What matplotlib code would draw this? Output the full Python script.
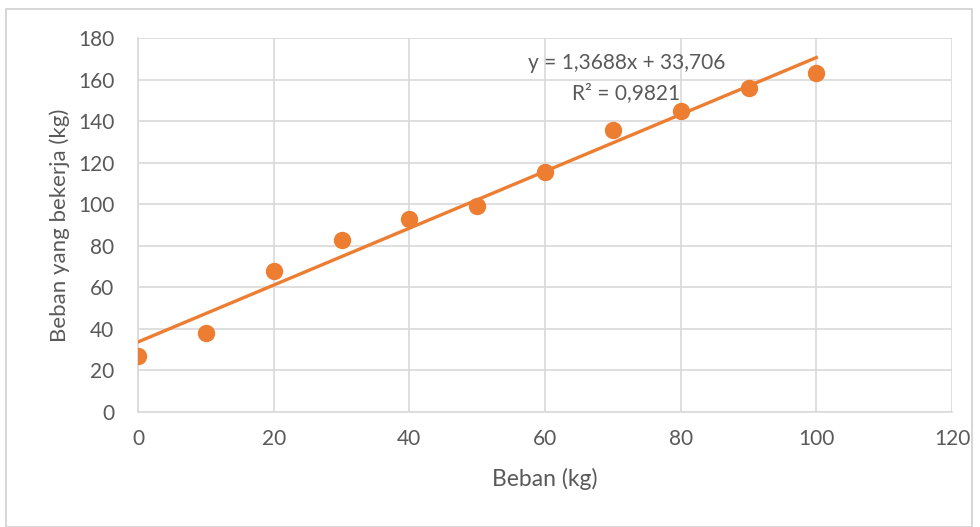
import numpy as np
import matplotlib
matplotlib.use("Agg")
import matplotlib.pyplot as plt
from matplotlib.patches import Rectangle

# measured load vs. working load
beban = [0, 10, 20, 30, 40, 50, 60, 70, 80, 90, 100]
beban_bekerja = [27, 38, 68, 83, 93, 99, 115.5, 135.7, 144.8, 155.9, 163.1]

# linear trendline coefficients
slope = 1.3688
intercept = 33.706
r2 = 0.9821

x_ticks = [0, 20, 40, 60, 80, 100, 120]
y_ticks = [0, 20, 40, 60, 80, 100, 120, 140, 160, 180]

orange = "#ED7D31"
text_col = "#595959"
grid_col = "#D9D9D9"

plt.rcParams['font.family'] = ['Lato', 'DejaVu Sans']

fig = plt.figure(figsize=(9.8, 5.27), dpi=100)
ax = fig.add_axes([138 / 980, 1 - 412 / 527, (952 - 138) / 980, (412 - 38) / 527])

# chart area frame
fig.patches.append(Rectangle((6 / 980, 0.0), 966 / 980, 1 - 9 / 527,
                             transform=fig.transFigure, fill=False,
                             edgecolor="#D0D0D0", linewidth=1.2))

xs = np.array([beban[0], beban[-1]])
ax.plot(xs, slope * xs + intercept, color=orange, linewidth=2.4, zorder=3)
ax.plot(beban, beban_bekerja, "o", color=orange, markersize=11.5, zorder=4)

ax.set_xlim(0, 120)
ax.set_ylim(0, 180)
ax.set_xticks(x_ticks)
ax.set_yticks(y_ticks)
ax.grid(True, color=grid_col, linewidth=1.2)
ax.set_axisbelow(True)
for side in ["top", "right"]:
    ax.spines[side].set_visible(False)
for side in ["left", "bottom"]:
    ax.spines[side].set_color(grid_col)
    ax.spines[side].set_linewidth(1.2)
ax.tick_params(length=0, labelsize=15, colors=text_col)
ax.tick_params(axis="y", pad=17)
ax.tick_params(axis="x", pad=12)

ax.set_xlabel("Beban (kg)", fontsize=16.5, color=text_col, labelpad=14)
ax.set_ylabel("Beban yang bekerja (kg)", fontsize=16, color=text_col, labelpad=6)

# trendline equation and R², decimal comma
eq = "y = {}x + {}".format(str(slope).replace(".", ","), str(intercept).replace(".", ","))
r2_txt = "R² = {}".format(str(r2).replace(".", ","))
ax.text(72, 168, eq, ha="center", va="center", fontsize=15, color=text_col)
ax.text(72, 153.5, r2_txt, ha="center", va="center", fontsize=15, color=text_col)

fig.savefig("out.png", dpi=100, facecolor="white")
